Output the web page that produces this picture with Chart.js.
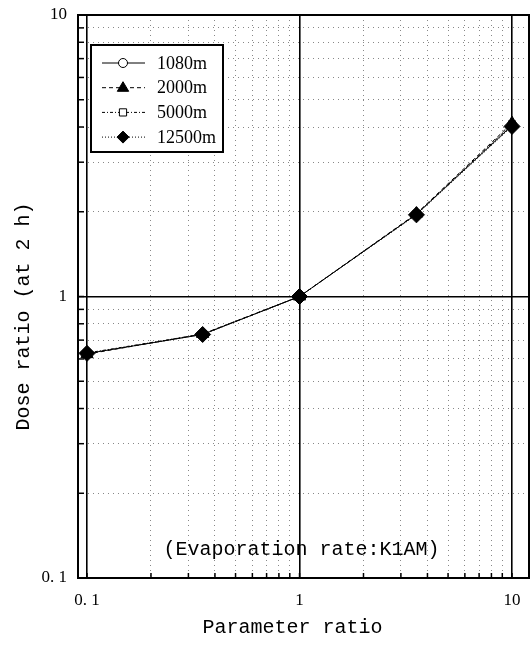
<!DOCTYPE html>
<html><head><meta charset="utf-8">
<script src="https://cdn.jsdelivr.net/npm/chart.js@4/dist/chart.umd.min.js"></script>
<style>html,body{margin:0;padding:0;background:#fff}</style>
</head><body>
<canvas id="c" width="531" height="645"></canvas>
<script>
// ---- data ----
const parameterRatio = [0.1, 0.35, 1, 3.55, 10];
const dose1080  = [0.627, 0.733, 1.0, 1.96, 4.05];
const dose2000  = [0.624, 0.736, 1.0, 1.97, 4.13];
const dose5000  = [0.630, 0.735, 1.0, 1.96, 4.09];
const dose12500 = [0.628, 0.733, 1.0, 1.95, 4.02];
const seriesLabels = ['1080m', '2000m', '5000m', '12500m'];
const gridTicks = [0.1,0.2,0.3,0.4,0.5,0.6,0.7,0.8,0.9,1,2,3,4,5,6,7,8,9,10];
const majorValues = [0.1, 1, 10];
const majorTickLabels = ['0. 1', '1', '10'];
const xTitle = 'Parameter ratio';
const yTitle = 'Dose ratio (at 2 h)';
const noteText = '(Evaporation rate:K1AM)';

const isMajor = v => majorValues.some(m => Math.abs(m - v) < 1e-9);
const tickLabel = v => { const i = majorValues.findIndex(m => Math.abs(m - v) < 1e-9); return i >= 0 ? majorTickLabels[i] : ''; };
const pts = vals => parameterRatio.map((x, i) => ({x: x, y: vals[i]}));

const styles = [
  {pointStyle: 'circle',  radius: 5, fill: '#fff', dash: [],          order: 2},
  {pointStyle: 'triangle',radius: 7, fill: '#000', dash: [4, 3],      order: 1},
  {pointStyle: 'rect',    radius: 5, fill: '#fff', dash: [3, 2, 1, 2],order: 3},
  {pointStyle: 'rectRot', radius: 8, fill: '#000', dash: [1, 2],      order: 0}
];
const seriesValues = [dose1080, dose2000, dose5000, dose12500];

const datasets = seriesLabels.map((lab, i) => ({
  label: lab,
  data: pts(seriesValues[i]),
  borderColor: '#000',
  borderWidth: 1,
  borderDash: styles[i].dash,
  backgroundColor: styles[i].fill,
  pointStyle: styles[i].pointStyle,
  pointRadius: styles[i].radius,
  pointBackgroundColor: styles[i].fill,
  pointBorderColor: '#000',
  pointBorderWidth: 1,
  order: styles[i].order,
  fill: false,
  tension: 0
}));

function drawMarker(ctx, style, r, x, y, fill) {
  ctx.save();
  ctx.setLineDash([]);
  ctx.fillStyle = fill; ctx.strokeStyle = '#000'; ctx.lineWidth = 1;
  ctx.beginPath();
  if (style === 'circle') { ctx.arc(x, y, r, 0, Math.PI * 2); }
  else if (style === 'triangle') {
    ctx.moveTo(x, y - r); ctx.lineTo(x + r * 0.95, y + r * 0.6); ctx.lineTo(x - r * 0.95, y + r * 0.6); ctx.closePath();
  } else if (style === 'rect') { ctx.rect(x - r * 0.8, y - r * 0.8, r * 1.6, r * 1.6); }
  else { ctx.moveTo(x, y - r); ctx.lineTo(x + r, y); ctx.lineTo(x, y + r); ctx.lineTo(x - r, y); ctx.closePath(); }
  ctx.fill(); ctx.stroke();
  ctx.restore();
}

const framePlugin = {
  id: 'frame',
  afterDraw(chart) {
    const {ctx, chartArea: a, scales} = chart;
    const xs = scales.x, ys = scales.y;
    ctx.save();
    // inward tick marks
    ctx.strokeStyle = '#000'; ctx.lineWidth = 1.5; ctx.setLineDash([]);
    gridTicks.forEach(v => {
      const px = xs.getPixelForValue(v);
      if (px > a.left && px < a.right) { ctx.beginPath(); ctx.moveTo(px, a.bottom); ctx.lineTo(px, a.bottom - 5); ctx.stroke(); }
      const py = ys.getPixelForValue(v);
      if (py > a.top && py < a.bottom) { ctx.beginPath(); ctx.moveTo(a.left, py); ctx.lineTo(a.left + 6, py); ctx.stroke(); }
    });
    // frame
    ctx.lineWidth = 2;
    ctx.strokeRect(a.left, a.top, a.width, a.height);
    // axis titles
    ctx.fillStyle = '#000';
    ctx.font = '20px "Liberation Mono", monospace';
    ctx.textAlign = 'center'; ctx.textBaseline = 'middle';
    ctx.fillText(xTitle, xs.getPixelForValue(1) - 7, 628);
    ctx.save();
    ctx.translate(24, ys.getPixelForValue(1) + 20);
    ctx.rotate(-Math.PI / 2);
    ctx.fillText(yTitle, 0, 0);
    ctx.restore();
    // note
    ctx.fillText(noteText, xs.getPixelForValue(1) + 2, ys.getPixelForValue(0.126));
    // legend
    const bx = a.left + 13, by = a.top + 30, bw = 132, bh = 107;
    ctx.fillStyle = '#fff'; ctx.fillRect(bx, by, bw, bh);
    ctx.lineWidth = 2; ctx.strokeStyle = '#000'; ctx.strokeRect(bx, by, bw, bh);
    seriesLabels.forEach((lab, i) => {
      const yy = by + 18 + i * 24.7;
      ctx.save();
      ctx.lineWidth = 1; ctx.setLineDash(styles[i].dash);
      ctx.beginPath(); ctx.moveTo(bx + 11, yy); ctx.lineTo(bx + 54, yy); ctx.stroke();
      ctx.restore();
      drawMarker(ctx, styles[i].pointStyle, styles[i].pointStyle === 'circle' || styles[i].pointStyle === 'rect' ? 4.5 : 6, bx + 32, yy, styles[i].fill);
      ctx.fillStyle = '#000';
      ctx.font = '18px "Liberation Serif", serif';
      ctx.textAlign = 'left'; ctx.textBaseline = 'middle';
      ctx.fillText(lab, bx + 66, yy + 1);
    });
    ctx.restore();
  }
};

const gridOpts = {
  drawTicks: false,
  color: c => (c.tick && isMajor(c.tick.value)) ? '#000' : '#888',
  lineWidth: c => (c.tick && isMajor(c.tick.value)) ? 1.6 : 1
};
const borderOpts = {
  display: false,
  dash: c => (c.tick && isMajor(c.tick.value)) ? [] : [1, 4]
};

new Chart(document.getElementById('c'), {
  type: 'line',
  data: {datasets: datasets},
  plugins: [framePlugin],
  options: {
    responsive: false,
    devicePixelRatio: 1,
    animation: false,
    layout: {autoPadding: false, padding: {left: 0, right: 2, top: 15, bottom: 0}},
    plugins: {legend: {display: false}, tooltip: {enabled: false}},
    scales: {
      x: {
        type: 'logarithmic',
        min: 0.0907, max: 12.02,
        afterBuildTicks: s => { s.ticks = gridTicks.map(v => ({value: v})); },
        afterFit: s => { s.height = 67; s.paddingLeft = 0; s.paddingRight = 0; },
        grid: gridOpts,
        border: borderOpts,
        ticks: {
          autoSkip: false, maxRotation: 0, padding: 12, color: '#000',
          font: {family: '"Liberation Serif", serif', size: 17},
          callback: v => tickLabel(v)
        },
        title: {display: false, text: xTitle}
      },
      y: {
        type: 'logarithmic',
        min: 0.1, max: 10,
        afterBuildTicks: s => { s.ticks = gridTicks.map(v => ({value: v})); },
        afterFit: s => { s.width = 78; s.paddingTop = 0; s.paddingBottom = 0; },
        grid: gridOpts,
        border: borderOpts,
        ticks: {
          autoSkip: false, padding: 11, color: '#000',
          font: {family: '"Liberation Serif", serif', size: 17},
          callback: v => tickLabel(v)
        },
        title: {display: false, text: yTitle}
      }
    }
  }
});
</script>
</body></html>
